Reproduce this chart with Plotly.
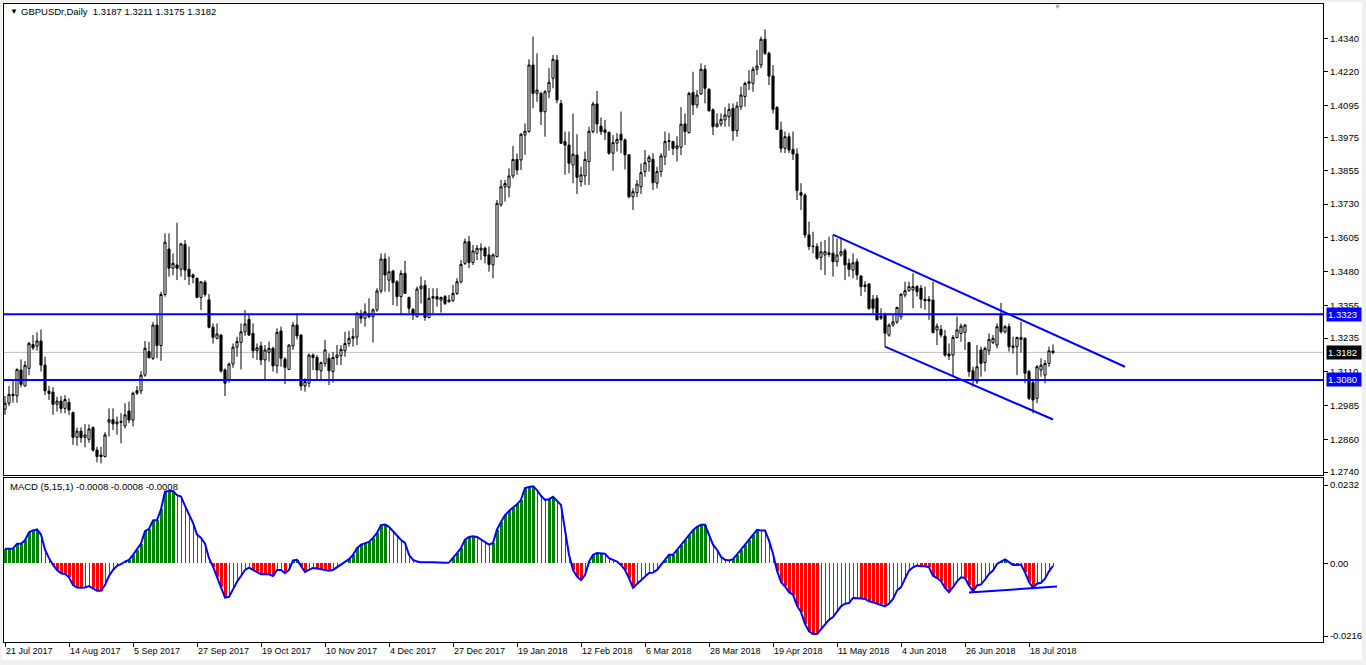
import plotly.graph_objects as go

# ---------------- data ----------------
OPEN = [1.2972,1.2994,1.3027,1.3022,1.3117,1.3058,1.3123,1.3211,1.3205,1.3224,
1.3135,1.3039,1.3035,1.2990,1.3002,1.2975,1.2997,1.2960,1.2868,1.2891,
1.2868,1.2861,1.2904,1.2821,1.2803,1.2797,1.2924,1.2933,1.2918,1.2927,
1.2910,1.2965,1.2932,1.3040,1.3040,1.3098,1.3185,1.3160,1.3283,1.3207,
1.3396,1.3564,1.3493,1.3505,1.3489,1.3581,1.3489,1.3468,1.3456,1.3385,
1.3441,1.3376,1.3275,1.3234,1.3246,1.3117,1.3080,1.3139,1.3201,1.3219,
1.3258,1.3304,1.3252,1.3188,1.3206,1.3154,1.3182,1.3197,1.3132,1.3261,
1.3157,1.3119,1.3206,1.3283,1.3246,1.3058,1.3068,1.3172,1.3163,1.3114,
1.3141,1.3160,1.3111,1.3163,1.3170,1.3188,1.3215,1.3234,1.3238,1.3326,
1.3308,1.3324,1.3314,1.3339,1.3409,1.3527,1.3449,1.3483,1.3443,1.3388,
1.3474,1.3385,1.3341,1.3314,1.3417,1.3430,1.3311,1.3382,1.3388,1.3375,
1.3388,1.3369,1.3373,1.3400,1.3443,1.3511,1.3591,1.3514,1.3548,1.3560,
1.3567,1.3542,1.3505,1.3536,1.3727,1.3794,1.3792,1.3834,1.3895,1.3893,
1.3985,1.3998,1.4244,1.4139,1.4139,1.4071,1.4145,1.4195,1.4262,1.4102,
1.3961,1.3948,1.3874,1.3911,1.3813,1.3834,1.3887,1.3998,1.4100,1.4018,
1.4004,1.3995,1.3918,1.3955,1.3988,1.3967,1.3912,1.3757,1.3772,1.3794,
1.3850,1.3887,1.3895,1.3807,1.3850,1.3905,1.3961,1.3961,1.3936,1.3940,
1.4026,1.3994,1.4142,1.4096,1.4137,1.4228,1.4154,1.4078,1.4016,1.4026,
1.4041,1.4053,1.4084,1.4001,1.4090,1.4127,1.4176,1.4176,1.4228,1.4244,
1.4339,1.4287,1.4203,1.4087,1.4004,1.3936,1.3979,1.3932,1.3915,1.3772,
1.3763,1.3616,1.3575,1.3573,1.3533,1.3542,1.3550,1.3548,1.3517,1.3542,
1.3558,1.3511,1.3486,1.3517,1.3464,1.3425,1.3435,1.3378,1.3382,1.3316,
1.3320,1.3246,1.3283,1.3295,1.3314,1.3394,1.3410,1.3413,1.3425,1.3419,
1.3378,1.3378,1.3375,1.3265,1.3267,1.3242,1.3176,1.3172,1.3237,1.3252,
1.3256,1.3218,1.3114,1.3074,1.3191,1.3144,1.3188,1.3218,1.3209,1.3322,
1.3258,1.3277,1.3206,1.3203,1.3237,1.3234,1.3111,1.3070,1.3012,1.3117,
1.3098,1.3141,1.3187]

HIGH = [1.3021,1.3058,1.3080,1.3123,1.3156,1.3150,1.3221,1.3246,1.3256,1.3267,
1.3166,1.3058,1.3053,1.3018,1.3021,1.3024,1.3012,1.2963,1.2904,1.2905,
1.2917,1.2916,1.2908,1.2833,1.2833,1.2887,1.2975,1.2975,1.2945,1.2957,
1.2994,1.3000,1.3037,1.3058,1.3113,1.3224,1.3221,1.3295,1.3320,1.3406,
1.3622,1.3622,1.3548,1.3661,1.3587,1.3597,1.3573,1.3474,1.3458,1.3443,
1.3449,1.3398,1.3289,1.3289,1.3249,1.3123,1.3144,1.3215,1.3240,1.3289,
1.3339,1.3320,1.3289,1.3215,1.3222,1.3209,1.3222,1.3203,1.3271,1.3277,
1.3164,1.3212,1.3295,1.3326,1.3249,1.3086,1.3178,1.3178,1.3172,1.3148,
1.3228,1.3178,1.3184,1.3209,1.3209,1.3258,1.3262,1.3271,1.3332,1.3339,
1.3363,1.3382,1.3345,1.3419,1.3548,1.3548,1.3536,1.3486,1.3449,1.3486,
1.3520,1.3388,1.3345,1.3425,1.3462,1.3449,1.3419,1.3419,1.3419,1.3388,
1.3394,1.3394,1.3431,1.3456,1.3523,1.3603,1.3612,1.3579,1.3579,1.3585,
1.3573,1.3573,1.3548,1.3745,1.3819,1.3819,1.3862,1.3945,1.3917,1.3992,
1.4028,1.4265,1.4349,1.4287,1.4145,1.4151,1.4232,1.4281,1.4281,1.4115,
1.3998,1.3998,1.4065,1.3988,1.3868,1.3924,1.4016,1.4108,1.4148,1.4050,
1.4041,1.3998,1.3985,1.3992,1.4072,1.3973,1.3915,1.3788,1.3819,1.3880,
1.3930,1.3911,1.3918,1.3868,1.3918,1.3998,1.3992,1.3964,1.3981,1.4088,
1.4065,1.4145,1.4219,1.4151,1.4250,1.4244,1.4158,1.4084,1.4065,1.4065,
1.4088,1.4102,1.4102,1.4108,1.4164,1.4182,1.4225,1.4238,1.4299,1.4349,
1.4376,1.4293,1.4244,1.4092,1.4035,1.3998,1.3992,1.3998,1.3936,1.3807,
1.3770,1.3665,1.3628,1.3585,1.3591,1.3597,1.3609,1.3616,1.3603,1.3603,
1.3566,1.3529,1.3548,1.3529,1.3468,1.3445,1.3437,1.3394,1.3394,1.3345,
1.3329,1.3289,1.3326,1.3351,1.3400,1.3443,1.3443,1.3474,1.3431,1.3431,
1.3425,1.3390,1.3443,1.3289,1.3283,1.3265,1.3215,1.3246,1.3314,1.3289,
1.3287,1.3221,1.3129,1.3209,1.3203,1.3203,1.3252,1.3246,1.3289,1.3365,
1.3283,1.3289,1.3240,1.3240,1.3295,1.3237,1.3117,1.3080,1.3135,1.3160,
1.3154,1.3203,1.3211]

LOW = [1.2951,1.2984,1.2996,1.2996,1.3053,1.3055,1.3098,1.3191,1.3188,1.3111,
1.3024,1.3006,1.2951,1.2963,1.2957,1.2957,1.2951,1.2840,1.2837,1.2848,
1.2831,1.2848,1.2815,1.2776,1.2772,1.2794,1.2871,1.2895,1.2877,1.2846,
1.2901,1.2920,1.2908,1.3024,1.3028,1.3092,1.3160,1.3154,1.3160,1.3151,
1.3388,1.3462,1.3468,1.3449,1.3462,1.3449,1.3431,1.3437,1.3382,1.3339,
1.3388,1.3271,1.3215,1.3230,1.3107,1.3021,1.3070,1.3125,1.3166,1.3119,
1.3243,1.3243,1.3160,1.3154,1.3135,1.3080,1.3148,1.3111,1.3104,1.3129,
1.3065,1.3117,1.3191,1.3230,1.3041,1.3037,1.3053,1.3117,1.3080,1.3080,
1.3129,1.3061,1.3070,1.3135,1.3135,1.3166,1.3203,1.3203,1.3209,1.3289,
1.3277,1.3308,1.3218,1.3332,1.3400,1.3406,1.3406,1.3357,1.3353,1.3320,
1.3398,1.3326,1.3302,1.3311,1.3363,1.3299,1.3308,1.3326,1.3351,1.3329,
1.3357,1.3366,1.3369,1.3394,1.3437,1.3505,1.3493,1.3505,1.3523,1.3523,
1.3511,1.3480,1.3456,1.3533,1.3720,1.3739,1.3755,1.3825,1.3838,1.3856,
1.3912,1.3994,1.4084,1.4108,1.4022,1.3979,1.4121,1.4158,1.4102,1.3952,
1.3838,1.3844,1.3807,1.3767,1.3794,1.3801,1.3801,1.3991,1.3991,1.3985,
1.3967,1.3912,1.3853,1.3924,1.3918,1.3858,1.3751,1.3708,1.3755,1.3767,
1.3831,1.3850,1.3782,1.3788,1.3831,1.3874,1.3927,1.3911,1.3887,1.3911,
1.3948,1.3991,1.4059,1.4084,1.4133,1.4102,1.4071,1.3985,1.4013,1.4016,
1.4016,1.4016,1.3964,1.3979,1.4078,1.4090,1.4151,1.4145,1.4207,1.4232,
1.4281,1.4170,1.4065,1.4004,1.3920,1.3918,1.3918,1.3893,1.3745,1.3708,
1.3605,1.3560,1.3548,1.3524,1.3486,1.3468,1.3535,1.3462,1.3499,1.3536,
1.3449,1.3462,1.3456,1.3450,1.3390,1.3405,1.3339,1.3326,1.3302,1.3302,
1.3203,1.3240,1.3277,1.3287,1.3302,1.3385,1.3406,1.3345,1.3388,1.3345,
1.3339,1.3302,1.3252,1.3209,1.3237,1.3166,1.3154,1.3095,1.3234,1.3221,
1.3191,1.3092,1.3055,1.3065,1.3092,1.3111,1.3172,1.3213,1.3197,1.3252,
1.3252,1.3185,1.3178,1.3098,1.3181,1.3068,1.3006,1.2957,1.2994,1.3092,
1.3068,1.3129,1.3175]

CLOSE = [1.2994,1.3027,1.3022,1.3119,1.3064,1.3134,1.3215,1.3199,1.3224,1.3135,
1.3040,1.3030,1.2990,1.3002,1.2975,1.3008,1.2969,1.2868,1.2891,1.2867,
1.2877,1.2899,1.2821,1.2797,1.2797,1.2877,1.2933,1.2918,1.2925,1.2924,
1.2951,1.2932,1.3031,1.3032,1.3098,1.3197,1.3162,1.3283,1.3207,1.3396,
1.3589,1.3493,1.3511,1.3493,1.3583,1.3486,1.3462,1.3459,1.3385,1.3443,
1.3396,1.3275,1.3238,1.3250,1.3113,1.3068,1.3139,1.3201,1.3222,1.3258,
1.3287,1.3246,1.3188,1.3199,1.3154,1.3191,1.3197,1.3132,1.3256,1.3160,
1.3127,1.3209,1.3283,1.3243,1.3058,1.3074,1.3172,1.3163,1.3117,1.3144,
1.3191,1.3114,1.3163,1.3172,1.3193,1.3215,1.3234,1.3240,1.3326,1.3308,
1.3332,1.3314,1.3339,1.3409,1.3527,1.3468,1.3480,1.3440,1.3388,1.3474,
1.3400,1.3345,1.3320,1.3416,1.3427,1.3311,1.3382,1.3388,1.3379,1.3385,
1.3363,1.3375,1.3400,1.3443,1.3507,1.3591,1.3514,1.3557,1.3567,1.3567,
1.3538,1.3507,1.3542,1.3733,1.3794,1.3806,1.3834,1.3895,1.3856,1.3988,
1.3999,1.4244,1.4139,1.4151,1.4071,1.4145,1.4180,1.4265,1.4115,1.3955,
1.3948,1.3881,1.3914,1.3829,1.3838,1.3895,1.3999,1.4100,1.4026,1.3998,
1.3995,1.3918,1.3957,1.3969,1.3967,1.3912,1.3757,1.3776,1.3804,1.3846,
1.3883,1.3903,1.3809,1.3850,1.3908,1.3961,1.3964,1.3936,1.3945,1.4025,
1.3998,1.4139,1.4096,1.4133,1.4228,1.4158,1.4075,1.4016,1.4026,1.4043,
1.4059,1.4080,1.4001,1.4092,1.4133,1.4176,1.4182,1.4228,1.4240,1.4339,
1.4287,1.4203,1.4080,1.4006,1.3936,1.3979,1.3930,1.3915,1.3780,1.3763,
1.3616,1.3573,1.3573,1.3530,1.3554,1.3554,1.3544,1.3517,1.3542,1.3554,
1.3505,1.3489,1.3513,1.3468,1.3425,1.3431,1.3345,1.3345,1.3302,1.3308,
1.3253,1.3283,1.3295,1.3348,1.3397,1.3410,1.3425,1.3425,1.3406,1.3378,
1.3373,1.3372,1.3255,1.3279,1.3246,1.3172,1.3169,1.3237,1.3265,1.3279,
1.3283,1.3111,1.3080,1.3129,1.3141,1.3197,1.3230,1.3234,1.3277,1.3258,
1.3277,1.3203,1.3200,1.3237,1.3230,1.3105,1.3012,1.3006,1.3129,1.3135,
1.3141,1.3188,1.3182]

MACD = [0.0043,0.0043,0.0043,0.0058,0.0058,0.0068,0.0092,0.0097,0.0100,0.0085,
0.0040,0.0015,-0.0005,-0.0020,-0.0030,-0.0032,-0.0042,-0.0065,-0.0072,-0.0073,
-0.0072,-0.0068,-0.0075,-0.0082,-0.0082,-0.0065,-0.0038,-0.0020,-0.0008,-0.0003,
0.0005,0.0010,0.0025,0.0040,0.0058,0.0095,0.0102,0.0127,0.0128,0.0160,
0.0212,0.0214,0.0214,0.0202,0.0198,0.0170,0.0147,0.0120,0.0085,0.0075,
0.0058,0.0015,-0.0010,-0.0040,-0.0070,-0.0102,-0.0100,-0.0075,-0.0055,-0.0038,
-0.0020,-0.0013,-0.0020,-0.0028,-0.0033,-0.0033,-0.0033,-0.0038,-0.0020,-0.0020,
-0.0030,-0.0020,0.0008,0.0010,-0.0010,-0.0026,-0.0020,-0.0014,-0.0016,-0.0018,
-0.0020,-0.0022,-0.0020,-0.0012,-0.0005,0.0002,0.0012,0.0025,0.0045,0.0055,
0.0060,0.0063,0.0075,0.0090,0.0113,0.0115,0.0108,0.0095,0.0080,0.0069,
0.0060,0.0025,0.0010,0.0005,0.0003,0.0002,0.0003,0.0003,0.0002,0.0002,
0.0001,0.0002,0.0015,0.0030,0.0045,0.0070,0.0078,0.0080,0.0078,0.0070,
0.0063,0.0055,0.0060,0.0100,0.0122,0.0143,0.0155,0.0164,0.0175,0.0188,
0.0223,0.0226,0.0228,0.0217,0.0200,0.0188,0.0190,0.0197,0.0185,0.0173,
0.0099,0.0025,-0.0020,-0.0040,-0.0050,-0.0035,0.0004,0.0025,0.0030,0.0030,
0.0028,0.0015,0.0010,0.0005,-0.0005,-0.0020,-0.0044,-0.0073,-0.0062,-0.0050,
-0.0038,-0.0029,-0.0028,-0.0020,-0.0005,0.0010,0.0025,0.0025,0.0040,0.0055,
0.0070,0.0084,0.0098,0.0108,0.0114,0.0114,0.0084,0.0055,0.0040,0.0019,
0.0010,0.0008,0.0012,0.0025,0.0040,0.0055,0.0069,0.0085,0.0099,0.0097,
0.0097,0.0067,0.0028,-0.0022,-0.0056,-0.0069,-0.0086,-0.0093,-0.0126,-0.0145,
-0.0180,-0.0202,-0.0210,-0.0210,-0.0195,-0.0182,-0.0168,-0.0160,-0.0145,-0.0128,
-0.0120,-0.0118,-0.0103,-0.0103,-0.0105,-0.0106,-0.0113,-0.0116,-0.0120,-0.0122,
-0.0128,-0.0120,-0.0106,-0.0081,-0.0071,-0.0046,-0.0022,-0.0012,-0.0007,-0.0009,
-0.0009,-0.0012,-0.0037,-0.0044,-0.0053,-0.0073,-0.0086,-0.0071,-0.0054,-0.0042,
-0.0044,-0.0066,-0.0083,-0.0066,-0.0063,-0.0049,-0.0032,-0.0022,-0.0002,0.0005,
0.0011,0.0003,-0.0005,-0.0005,-0.0004,-0.0027,-0.0056,-0.0073,-0.0061,-0.0058,
-0.0046,-0.0024,-0.0008]

XTICK_IDX = [0, 16, 32, 48, 64, 80, 96, 112, 128, 144, 160, 176, 192, 208, 224, 240, 256]
XTICK_LABELS = ["21 Jul 2017", "14 Aug 2017", "5 Sep 2017", "27 Sep 2017", "19 Oct 2017",
                "10 Nov 2017", "4 Dec 2017", "27 Dec 2017", "19 Jan 2018", "12 Feb 2018",
                "6 Mar 2018", "28 Mar 2018", "19 Apr 2018", "11 May 2018", "4 Jun 2018",
                "26 Jun 2018", "18 Jul 2018"]
PRICE_TICKS = [1.4340, 1.4220, 1.4095, 1.3975, 1.3855, 1.3730, 1.3605, 1.3480,
               1.3355, 1.3235, 1.3110, 1.2985, 1.2860, 1.2740]
PRICE_TICK_LABELS = ["1.4340", "1.4220", "1.4095", "1.3975", "1.3855", "1.3730", "1.3605",
                     "1.3480", "1.3355", "1.3235", "1.3110", "1.2985", "1.2860", "1.2740"]
MACD_TICKS = [0.0232, 0.0, -0.0216]
MACD_TICK_LABELS = ["0.0232", "0.00", "-0.0216"]

LEVELS = [1.3323, 1.3080]
LEVEL_LABELS = ["1.3323", "1.3080"]
BID = 1.3182
BID_LABEL = "1.3182"

UPPER_X = [207, 280]
UPPER_Y = [1.3617, 1.3129]
LOWER_X = [220, 262]
LOWER_Y = [1.3203, 1.2934]
MACD_TL_X = [241, 263]
MACD_TL_Y = [-0.0087, -0.0069]

HEADER = "GBPUSDr,Daily\u00a0\u00a01.3187 1.3211 1.3175 1.3182"
MACD_HEADER = "MACD (5,15,1) -0.0008 -0.0008 -0.0008"

# ---------------- geometry ----------------
W, H = 1366, 665
ML, MR, MT, MB = 4, 43, 4, 23
PW = W - ML - MR
PH = H - MT - MB


def px(x):
    return (x - ML) / PW


def py(y):
    return (H - MB - y) / PH


FONT = "Liberation Sans, Arial, sans-serif"
idx = list(range(len(CLOSE)))
XR = [-0.25, 329.5]

fig = go.Figure()

fig.add_trace(go.Candlestick(
    x=idx, open=OPEN, high=HIGH, low=LOW, close=CLOSE,
    xaxis="x", yaxis="y",
    increasing=dict(line=dict(color="black", width=1), fillcolor="white"),
    decreasing=dict(line=dict(color="black", width=1), fillcolor="black"),
    whiskerwidth=0, showlegend=False, hoverinfo="skip",
))

for tx, ty in ((UPPER_X, UPPER_Y), (LOWER_X, LOWER_Y)):
    fig.add_trace(go.Scatter(x=tx, y=ty, mode="lines", xaxis="x", yaxis="y",
                             line=dict(color="#0000ff", width=2), showlegend=False,
                             hoverinfo="skip"))

# MACD histogram: thick bars while magnitude grows, thin when it shrinks
colors, widths = [], []
thick = True
for i, v in enumerate(MACD):
    if i > 0:
        if abs(v) > abs(MACD[i - 1]) or (v > 0) != (MACD[i - 1] > 0):
            thick = True
        elif abs(v) < abs(MACD[i - 1]):
            thick = False
    colors.append("#008000" if v > 0 else "#ff0000")
    widths.append(0.75 if thick else 0.25)

fig.add_trace(go.Bar(x=idx, y=MACD, xaxis="x2", yaxis="y2", marker=dict(color=colors, line=dict(width=0)),
                     width=widths, showlegend=False, hoverinfo="skip"))
fig.add_trace(go.Scatter(x=idx, y=MACD, xaxis="x2", yaxis="y2", mode="lines",
                         line=dict(color="#0000ff", width=2), showlegend=False, hoverinfo="skip"))
fig.add_trace(go.Scatter(x=MACD_TL_X, y=MACD_TL_Y, xaxis="x2", yaxis="y2", mode="lines",
                         line=dict(color="#0000ff", width=2), showlegend=False, hoverinfo="skip"))

main_bottom = py(475)
macd_top = py(478)

axis_common = dict(showgrid=False, zeroline=False, showline=True, linecolor="black",
                   linewidth=1, mirror=True)

shapes = [
    dict(type="rect", xref="paper", yref="paper", x0=px(2), x1=px(1362), y0=py(660), y1=py(2),
         fillcolor="white", line=dict(width=0), layer="below"),
]
for lv in LEVELS:
    shapes.append(dict(type="line", xref="paper", yref="y", x0=0, x1=1, y0=lv, y1=lv,
                       line=dict(color="#0000ff", width=2)))
shapes.append(dict(type="line", xref="paper", yref="y", x0=0, x1=1, y0=BID, y1=BID,
                   line=dict(color="#c0c0c0", width=1), layer="below"))

annotations = [
    dict(text="▼", xref="paper", yref="paper", x=px(8), y=py(12), xanchor="left", yanchor="middle",
         showarrow=False, font=dict(family=FONT, size=8, color="black")),
    dict(text=HEADER, xref="paper", yref="paper", x=px(19), y=py(12), xanchor="left",
         yanchor="middle", showarrow=False, font=dict(family=FONT, size=9.5, color="black")),
    dict(text=MACD_HEADER, xref="paper", yref="paper", x=px(8), y=py(486), xanchor="left",
         yanchor="middle", showarrow=False, font=dict(family=FONT, size=9.5, color="black")),
    dict(text="▼", xref="paper", yref="paper", x=px(1057), y=py(6), xanchor="center",
         yanchor="middle", showarrow=False, font=dict(family=FONT, size=7, color="#a0a0a0")),
]
for lv, lab in zip(LEVELS, LEVEL_LABELS):
    annotations.append(dict(text=lab, xref="paper", yref="y", x=px(1326), y=lv, xanchor="left",
                            yanchor="middle", showarrow=False, bgcolor="#0000ff", borderpad=1,
                            width=32, align="left",
                            font=dict(family=FONT, size=9.5, color="white")))
annotations.append(dict(text=BID_LABEL, xref="paper", yref="y", x=px(1326), y=BID, xanchor="left",
                        yanchor="middle", showarrow=False, bgcolor="black", borderpad=1,
                        width=32, align="left",
                        font=dict(family=FONT, size=9.5, color="white")))

fig.update_layout(
    width=W, height=H, autosize=False,
    margin=dict(l=ML, r=MR, t=MT, b=MB, pad=0),
    paper_bgcolor="#f0f0f0", plot_bgcolor="white",
    boxgap=0.25, bargap=0, showlegend=False,
    font=dict(family=FONT, size=9.5, color="black"),
    xaxis=dict(domain=[0, 1], anchor="y", range=XR, showticklabels=False, ticks="",
               rangeslider=dict(visible=False), fixedrange=True, **axis_common),
    yaxis=dict(domain=[main_bottom, 1], anchor="x", side="right", range=[1.27289, 1.44693],
               tickvals=PRICE_TICKS, ticktext=PRICE_TICK_LABELS, ticks="outside", ticklen=4,
               tickcolor="black", tickfont=dict(family=FONT, size=9.5, color="black"),
               **axis_common),
    xaxis2=dict(domain=[0, 1], anchor="y2", range=XR, tickvals=XTICK_IDX, ticktext=XTICK_LABELS,
                ticks="outside", ticklen=4, tickcolor="black", ticklabelposition="outside right",
                tickfont=dict(family=FONT, size=9, color="black"), **axis_common),
    yaxis2=dict(domain=[0, macd_top], anchor="x2", side="right", range=[-0.02338, 0.02528],
                tickvals=MACD_TICKS, ticktext=MACD_TICK_LABELS, ticks="outside", ticklen=4,
                tickcolor="black", tickfont=dict(family=FONT, size=9.5, color="black"),
                **axis_common),
    shapes=shapes, annotations=annotations,
)

fig.write_html("out.html", config={"displayModeBar": False, "staticPlot": True},
               post_script="document.body.style.margin='0';document.body.style.overflow='hidden';")
